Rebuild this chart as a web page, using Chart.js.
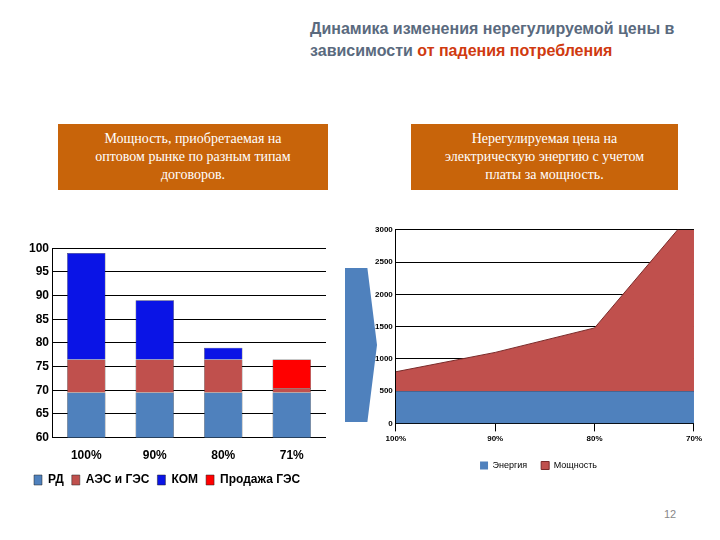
<!DOCTYPE html>
<html>
<head>
<meta charset="utf-8">
<script src="https://cdn.jsdelivr.net/npm/chart.js@4/dist/chart.umd.min.js"></script>
<style>
  body { margin: 0; width: 720px; height: 540px; background: #fff; position: relative; font-family: "Liberation Sans", Arial, sans-serif; overflow: hidden; }
  .title { position: absolute; left: 310px; top: 18px; width: 370px; font-size: 16px; font-weight: bold; color: #5a6a7e; line-height: 22px; }
  .title span { color: #d03a10; }
  .box { position: absolute; top: 124px; height: 66px; background: #c8640a; color: #fff; font-family: "Liberation Serif", serif; font-size: 14px; text-align: center; line-height: 18px; display: flex; align-items: center; justify-content: center; }
  .arrow { position: absolute; left: 345px; top: 268px; width: 32px; height: 154px; background: #4f81bd; clip-path: polygon(0 0, 70% 0, 100% 50%, 70% 100%, 0 100%); }
  .page { position: absolute; left: 664px; top: 508px; font-size: 11px; color: #888; }
</style>
</head>
<body>
<div class="title">Динамика изменения нерегулируемой цены в зависимости <span>от падения потребления</span></div>
<div class="box" style="left:58px;width:270px;">Мощность, приобретаемая на<br>оптовом рынке по разным типам<br>договоров.</div>
<div class="box" style="left:411px;width:267px;">Нерегулируемая цена на<br>электрическую энергию с учетом<br>платы за мощность.</div>
<div class="arrow"></div>
<div class="page">12</div>
<div style="position:absolute;left:26px;top:238px;width:300px;height:258px;"><canvas id="left"></canvas></div>
<div style="position:absolute;left:372px;top:222px;width:333px;height:258px;"><canvas id="right"></canvas></div>
<script>
// ==========================================
// Data
// ==========================================
const leftLabels = ["100%", "90%", "80%", "71%"];
const rd = [69.5, 69.5, 69.5, 69.5];
const aesGes = [7, 7, 7, 1];
const kom = [22.5, 12.5, 2.5, 0];
const prodazhaGes = [0, 0, 0, 6];

const rightLabels = ["100%", "90%", "80%", "70%"];
const energy = [500, 500, 500, 500];
const power = [300, 600, 980, 2800];

Chart.defaults.font.family = "'Liberation Sans', Arial, sans-serif";
Chart.defaults.color = "#000";

// ==========================================
// Left stacked bar chart
// ==========================================
new Chart(document.getElementById("left"), {
    type: "bar",
    data: {
        labels: leftLabels,
        datasets: [
            { label: "РД", data: rd, backgroundColor: "#4f81bd" },
            { label: "АЭС и ГЭС", data: aesGes, backgroundColor: "#c0504d" },
            { label: "КОМ", data: kom, backgroundColor: "#0a14e6" },
            { label: "Продажа ГЭС", data: prodazhaGes, backgroundColor: "#ff0000" }
        ]
    },
    options: {
        responsive: true,
        maintainAspectRatio: false,
        animation: false,
        layout: { padding: { top: 8 } },
        datasets: { bar: { categoryPercentage: 0.8, barPercentage: 0.7, borderColor: "#222", borderWidth: 0.5 } },
        plugins: {
            legend: {
                position: "bottom",
                align: "start",
                labels: { boxWidth: 8, boxHeight: 10, padding: 8, font: { size: 12, weight: "bold" } }
            },
            tooltip: { enabled: false }
        },
        scales: {
            x: {
                stacked: true,
                grid: { display: false },
                border: { color: "#000" },
                ticks: { font: { size: 12, weight: "bold" } }
            },
            y: {
                stacked: true,
                min: 60,
                max: 100,
                ticks: { stepSize: 5, font: { size: 12, weight: "bold" } },
                grid: { color: "#000", drawTicks: false },
                border: { color: "#000" }
            }
        }
    }
});

// ==========================================
// Right stacked area chart
// ==========================================
new Chart(document.getElementById("right"), {
    type: "line",
    data: {
        labels: rightLabels,
        datasets: [
            { label: "Энергия", data: energy, fill: "origin", backgroundColor: "#4f81bd", borderColor: "#4f81bd", borderWidth: 0, pointRadius: 0 },
            { label: "Мощность", data: power, fill: "-1", backgroundColor: "#c0504d", borderColor: "#7a2b2a", borderWidth: 1, pointRadius: 0 }
        ]
    },
    options: {
        responsive: true,
        maintainAspectRatio: false,
        animation: false,
        clip: true,
        plugins: {
            legend: {
                position: "bottom",
                labels: { boxWidth: 8, boxHeight: 8, padding: 14, font: { size: 9 } }
            },
            tooltip: { enabled: false }
        },
        scales: {
            x: {
                offset: false,
                grid: { display: true, color: "transparent", tickColor: "#000" },
                border: { color: "#000" },
                ticks: { font: { size: 8, weight: "bold" } }
            },
            y: {
                stacked: true,
                min: 0,
                max: 3000,
                ticks: { stepSize: 500, font: { size: 8, weight: "bold" }, callback: v => String(v) },
                grid: { color: "#000", drawTicks: false },
                border: { color: "#000" }
            }
        }
    }
});
</script>
</body>
</html>
